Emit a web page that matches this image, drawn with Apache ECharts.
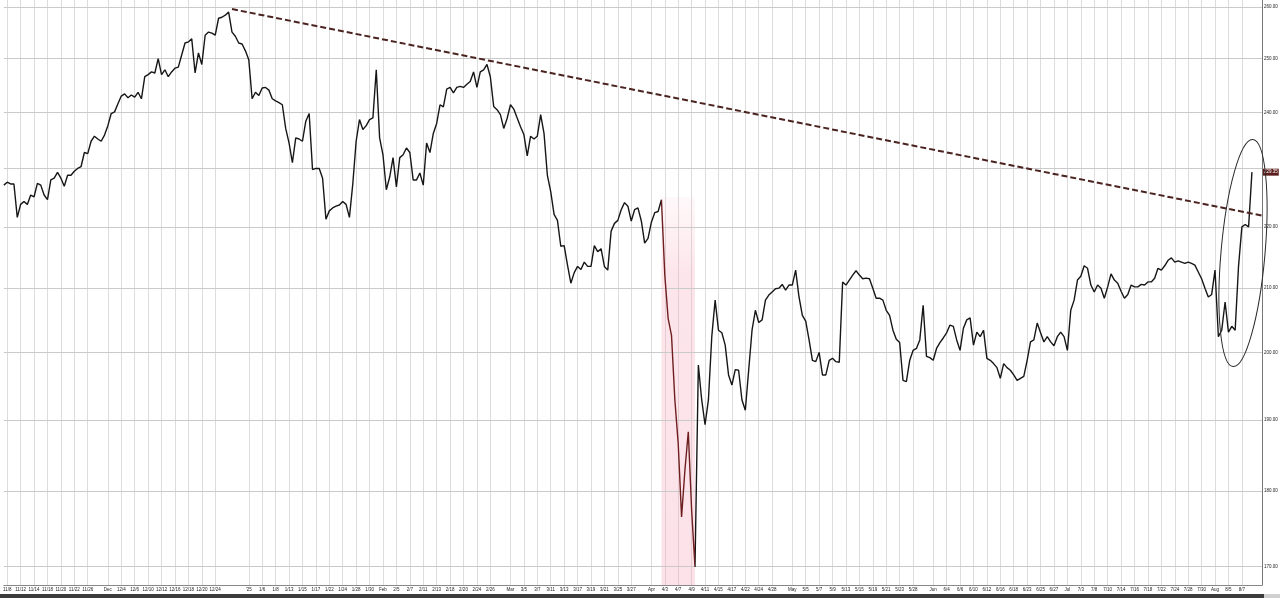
<!DOCTYPE html>
<html><head><meta charset="utf-8">
<script src="https://cdn.jsdelivr.net/npm/echarts@6/dist/echarts.min.js"></script>
<style>html,body{margin:0;padding:0;background:#fff}#chart{width:1280px;height:598px}</style>
</head><body><div id="chart"></div>
<script>
// Trading days (two intraday samples per day)
const tradingDays = [
 '11/8','11/11','11/12','11/13','11/14','11/15','11/18','11/19','11/20','11/21','11/22','11/25','11/26','11/27','11/29',
 '12/2','12/3','12/4','12/5','12/6','12/9','12/10','12/11','12/12','12/13','12/16','12/17','12/18','12/19','12/20','12/23','12/24','12/26','12/27','12/30','12/31',
 '1/2','1/3','1/6','1/7','1/8','1/10','1/13','1/14','1/15','1/16','1/17','1/21','1/22','1/23','1/24','1/27','1/28','1/29','1/30','1/31',
 '2/3','2/4','2/5','2/6','2/7','2/10','2/11','2/12','2/13','2/14','2/18','2/19','2/20','2/21','2/24','2/25','2/26','2/27','2/28',
 '3/3','3/4','3/5','3/6','3/7','3/10','3/11','3/12','3/13','3/14','3/17','3/18','3/19','3/20','3/21','3/24','3/25','3/26','3/27','3/28','3/31',
 '4/1','4/2','4/3','4/4','4/7','4/8','4/9','4/10','4/11','4/14','4/15','4/16','4/17','4/21','4/22','4/23','4/24','4/25','4/28','4/29','4/30',
 '5/1','5/2','5/5','5/6','5/7','5/8','5/9','5/12','5/13','5/14','5/15','5/16','5/19','5/20','5/21','5/22','5/23','5/27','5/28','5/29','5/30',
 '6/2','6/3','6/4','6/5','6/6','6/9','6/10','6/11','6/12','6/13','6/16','6/17','6/18','6/20','6/23','6/24','6/25','6/26','6/27','6/30',
 '7/1','7/2','7/3','7/7','7/8','7/9','7/10','7/11','7/14','7/15','7/16','7/17','7/18','7/21','7/22','7/23','7/24','7/25','7/28','7/29','7/30','7/31',
 '8/1','8/4','8/5','8/6','8/7','8/8'
];
const tickDays = ['11/8','11/12','11/14','11/18','11/20','11/22','11/26','12/2','12/4','12/6','12/10','12/12','12/16','12/18','12/20','12/24',
 '1/2','1/6','1/8','1/13','1/15','1/17','1/22','1/24','1/28','1/30','2/3','2/5','2/7','2/11','2/13','2/18','2/20','2/24','2/26',
 '3/3','3/5','3/7','3/11','3/13','3/17','3/19','3/21','3/25','3/27','4/1','4/3','4/7','4/9','4/11','4/15','4/17','4/22','4/24','4/28',
 '5/1','5/5','5/7','5/9','5/13','5/15','5/19','5/21','5/23','5/28','6/2','6/4','6/6','6/10','6/12','6/16','6/18','6/23','6/25','6/27',
 '7/1','7/3','7/8','7/10','7/14','7/16','7/18','7/22','7/24','7/28','7/30','8/1','8/5','8/7'];
const monthStarts = ['12/2','1/2','2/3','3/3','4/1','5/1','6/2','7/1','8/1'];
const monthLabels = ['Dec',"'25",'Feb','Mar','Apr','May','Jun','Jul','Aug'];
const priceLevels = [170,180,190,200,210,220,230,240,250,260];
const lastPrice = 229.35;

// Prices (two samples per trading day)
const preOpen = [227.1];
const nov = [227.6,227.3,227.3,221.6,223.8,224.3,223.8,225.4,225.1,227.4,227.1,225.4,224.6,228.0,228.3,229.3,228.3,226.9,228.8,228.8,229.5,230.0,230.3,232.8,232.6,234.8,235.7,235.2,234.8,235.9];
const dec = [237.6,239.8,240.1,241.6,243.0,243.4,242.7,243.2,242.8,243.7,242.5,246.6,247.0,247.5,247.3,250.0,247.0,247.9,246.6,247.5,248.2,248.4,250.7,253.0,253.2,253.8,247.3,251.1,248.9,254.5,255.1,254.9,254.5,257.8,258.0,258.4,259.0,255.1,254.3,253.0,252.8,251.5];
const jan = [249.8,242.5,243.7,243.1,244.5,244.6,244.1,242.5,242.1,241.8,241.4,237.1,234.5,231.0,235.4,235.2,234.8,238.4,239.8,229.8,230.0,230.0,228.3,221.3,222.7,223.2,223.5,223.7,224.3,223.8,221.6,227.3,234.8,238.7,236.9,237.6,238.7,239.0,247.9,235.4];
const feb = [232.4,226.3,228.5,231.9,226.8,231.9,232.4,233.6,232.8,228.0,228.0,229.2,227.1,234.5,232.8,236.2,238.0,241.4,241.0,244.3,244.6,243.6,244.6,244.8,244.6,245.2,245.7,247.5,244.6,247.5,247.9,248.9,246.6,241.1,240.5,239.6,237.1,238.9];
const mar = [241.4,240.6,239.0,237.4,236.0,232.2,235.7,235.2,235.7,239.6,236.2,228.8,226.0,222.1,221.1,216.8,216.9,213.7,210.8,212.5,213.5,213.0,214.2,213.5,213.5,216.9,215.9,216.4,213.5,212.9,219.3,220.6,221.1,222.9,224.1,223.5,221.0,222.9,223.2,221.0,217.3,218.1];
const apr = [220.8,222.4,222.6,224.6,212.1,205.2,202.6,192.9,186.6,176.5,182.9,188.3,177.4,169.9,198.1,192.9,189.3,192.9,202.4,208.1,203.4,203.0,201.1,196.6,195.1,197.4,197.3,192.9,191.4,197.3,203.4,206.5,204.6,205.0,208.1,208.9,209.4,209.9,210.0,210.6,209.7,210.5];
const may = [210.5,212.9,208.6,205.7,204.8,201.9,198.8,198.6,200.0,196.6,196.6,198.8,199.1,198.6,198.5,211.0,210.5,211.3,212.1,212.8,212.1,211.5,211.6,211.5,210.0,208.4,208.4,208.1,206.5,205.7,203.4,202.0,201.5,195.8,195.6,198.8,200.3,200.6,201.9,207.3,199.4,199.2];
const jun = [198.8,200.6,201.5,202.2,203.0,204.2,204.0,201.9,200.3,203.7,205.0,205.3,201.1,203.1,202.4,203.4,199.1,198.8,198.3,197.7,196.1,198.3,197.7,197.3,196.6,195.8,196.1,196.4,198.8,201.6,201.9,204.5,203.0,201.6,202.4,201.6,201.0,202.4,203.1,202.4];
const jul = [200.3,206.5,208.1,211.3,211.9,213.6,213.2,210.5,209.4,210.5,210.0,208.4,210.2,212.3,211.3,210.8,209.5,208.4,209.0,210.5,210.2,210.2,210.6,210.5,211.0,211.0,211.6,213.2,212.9,213.6,214.5,214.9,214.2,214.4,214.2,214.0,214.2,214.0,213.7,212.6,211.5,210.0,208.6,209.0];
const aug = [212.9,202.4,203.4,207.8,203.1,204.0,203.4,213.5,220.0,220.4,220.0,229.35];

// Trendline anchors (peak to latest)
const trendStart = ['12/27 pm', 259.6];
const trendEnd = ['pad3', 221.9];
// Shaded selloff window
const shadeFrom = '4/2 pm', shadeTo = '4/9 pm', shadeTop = 225;

const categories = ['11/7 pm'];
tradingDays.forEach(d => categories.push(d, d + ' pm'));
categories.push('pad1', 'pad2', 'pad3');
const prices = [].concat(preOpen, nov, dec, jan, feb, mar, apr, may, jun, jul, aug);

const tickSet = new Set(tickDays);
const showTick = (i, v) => tickSet.has(v);
const tickText = v => { const m = monthStarts.indexOf(v); return m >= 0 ? monthLabels[m] : v; };

const FONT = "'Liberation Sans Narrow','Arial Narrow','Liberation Sans',sans-serif";
const labelFont = { fontSize: 4.5, fontFamily: FONT, color: '#222', fontWeight: 'normal' };

const levelLines = priceLevels.map(v => ({
  yAxis: v,
  label: v === 230 ? { show: false } : undefined
}));

const chart = echarts.init(document.getElementById('chart'), null, { renderer: 'canvas' });
chart.setOption({
  animation: false,
  backgroundColor: '#fff',
  grid: { left: 2, right: 18, top: 0, bottom: 13, containLabel: false },
  xAxis: {
    type: 'category', data: categories, boundaryGap: false,
    axisLine: { show: true, lineStyle: { color: '#888', width: 1 } },
    axisTick: { show: false, interval: showTick },
    axisLabel: Object.assign({ interval: showTick, formatter: tickText, margin: 2.5, hideOverlap: false }, labelFont),
    splitLine: { show: true, interval: showTick, lineStyle: { color: '#dcdcdc', width: 1 } }
  },
  yAxis: {
    type: 'log', logBase: 10, min: 167.6, max: 261.4, position: 'right',
    axisLine: { show: true, lineStyle: { color: '#777', width: 1 } },
    axisTick: { show: false }, axisLabel: { show: false }, splitLine: { show: false }
  },
  visualMap: {
    show: false, type: 'piecewise', seriesIndex: 1, dimension: 0,
    pieces: [{ gte: categories.indexOf(shadeFrom), lte: categories.indexOf(shadeTo), color: '#6e1e1e' }],
    outOfRange: { color: '#161616' }
  },
  series: [
    {
      name: 'grid', type: 'line', data: prices, z: 1, silent: true,
      showSymbol: false, lineStyle: { opacity: 0 },
      markArea: {
        silent: true, z: 1,
        itemStyle: { color: new echarts.graphic.LinearGradient(0, 0, 0, 1, [
          { offset: 0, color: 'rgba(246,170,188,0.08)' },
          { offset: 0.2, color: 'rgba(246,170,188,0.3)' },
          { offset: 1, color: 'rgba(246,170,188,0.34)' }]) },
        data: [[{ xAxis: shadeFrom, yAxis: shadeTop }, { xAxis: shadeTo, yAxis: 167.6 }]]
      },
      markLine: {
        silent: true, z: 1, symbol: 'none', animation: false,
        lineStyle: { color: '#cacaca', width: 1, type: 'solid' },
        label: Object.assign({ position: 'end', distance: 2, formatter: p => p.value.toFixed(2) }, labelFont),
        data: levelLines
      }
    },
    {
      name: 'Price', type: 'line', data: prices, z: 3, showSymbol: false, symbol: 'none',
      lineStyle: { width: 1.4 },
      markLine: {
        silent: true, z: 4, symbol: 'none', animation: false,
        lineStyle: { color: '#4a2320', width: 2, type: [6, 3] },
        label: { show: false },
        data: [
          [{ coord: trendStart }, { coord: trendEnd }],
          { yAxis: lastPrice,
            lineStyle: { color: 'rgba(0,0,0,0)', width: 0 },
            label: { show: true, position: 'end', distance: 1, formatter: lastPrice.toFixed(2), color: '#ffffff',
                     opacity: 1, backgroundColor: '#5c1d1d', padding: [1, 1], fontSize: 4.5, fontFamily: FONT } }
        ]
      }
    }
  ],
  graphic: [
    { type: 'ellipse', x: 1243, y: 253, rotation: -0.087, shape: { cx: 0, cy: 0, rx: 22, ry: 114 },
      style: { fill: null, stroke: '#2a2a2a', lineWidth: 1 }, z: 10, silent: true },
    { type: 'rect', shape: { x: 0, y: 594, width: 1264, height: 4 }, style: { fill: '#3c3c3c' }, z: 10, silent: true },
    { type: 'rect', shape: { x: 1264, y: 594, width: 16, height: 4 }, style: { fill: '#d0d0d0' }, z: 10, silent: true }
  ]
});
</script>
</body></html>
